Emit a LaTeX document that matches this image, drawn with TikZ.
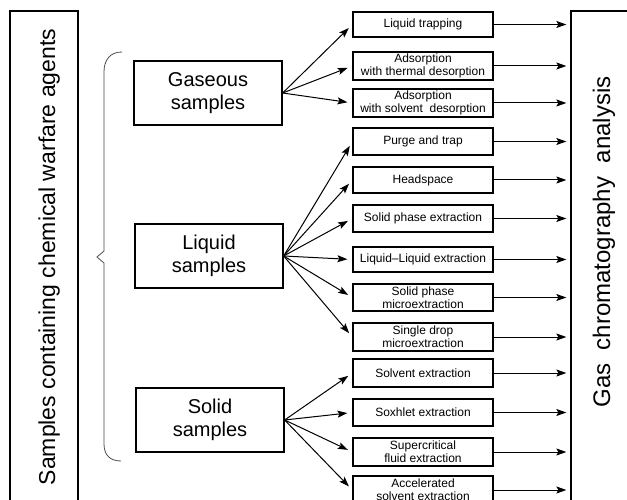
\documentclass[tikz,border=0pt]{standalone}
\usepackage{fontspec}
\setmainfont{Liberation Sans}
\usetikzlibrary{arrows.meta}
\begin{document}
\begin{tikzpicture}[x=1pt,y=-1pt,
  cat/.style={draw, line width=1.3pt, minimum width=148pt, minimum height=64pt, inner sep=0pt, align=center, font=\fontsize{20}{23}\selectfont},
  meth/.style={draw, line width=1.2pt, minimum width=140pt, inner sep=0pt, align=center, font=\fontsize{12}{13}\selectfont},
  frame/.style={draw, line width=1.3pt, inner sep=0pt},
  arr/.style={-{Stealth[length=10pt,width=7pt,inset=2pt]}, line width=1pt},
  vtext/.style={rotate=90, anchor=base, inner sep=0pt},
]
\clip (0,0) rectangle (627,500);
\fill[white] (0,0) rectangle (627,500);

% outer frames
\node[frame, minimum width=68pt, minimum height=510pt] (sc) at (44,266) {};
\node[frame, minimum width=70pt, minimum height=510pt] (gc) at (606,266) {};
\node[vtext, font=\fontsize{23}{26}\selectfont] (sct) at (55,257) {Samples containing chemical warfare agents};
\node[vtext, font=\fontsize{24}{27}\selectfont] (gct) at (610,242) {Gas\ \ chromatography\ \ analysis};

% brace
\draw[black!70, line width=0.8pt] (122,52) .. controls (110,52) and (104,60) .. (104,72)
  -- (104,251) -- (97,257) -- (104,263) -- (104,444)
  .. controls (104,455) and (110,461) .. (121,461);

% category boxes
\node[cat] (gas) at (208,93) {Gaseous\\samples};
\node[cat] (liq) at (209,256) {Liquid\\samples};
\node[cat] (sol) at (210,420) {Solid\\samples};

% method boxes
\node[meth, minimum height=25pt] (m1) at (423,24.5) {Liquid trapping};
\node[meth, minimum height=28pt] (m2) at (423,66) {Adsorption\\with thermal desorption};
\node[meth, minimum height=28pt] (m3) at (423,103) {Adsorption\\with solvent\ \ desorption};
\node[meth, minimum height=27pt] (m4) at (423,141.5) {Purge and trap};
\node[meth, minimum height=26pt] (m5) at (423,180) {Headspace};
\node[meth, minimum height=27pt] (m6) at (423,218.5) {Solid phase extraction};
\node[meth, minimum height=25pt] (m7) at (423,259.5) {Liquid--Liquid extraction};
\node[meth, minimum height=27pt] (m8) at (423,297.5) {Solid phase\\microextraction};
\node[meth, minimum height=28pt] (m9) at (423,337) {Single drop\\microextraction};
\node[meth, minimum height=28pt] (m10) at (423,373) {Solvent extraction};
\node[meth, minimum height=27pt] (m11) at (423,412.5) {Soxhlet extraction};
\node[meth, minimum height=28pt] (m12) at (423,452) {Supercritical\\fluid extraction};
\node[meth, minimum height=28pt] (m13) at (423,490) {Accelerated\\solvent extraction};

% fan-out arrows
\foreach \m in {m1,m2,m3} \draw[arr, shorten >=5pt] (gas.east) -- (\m.west);
\foreach \m in {m4,m5,m6,m7,m8,m9} \draw[arr, shorten >=5pt] (liq.east) -- (\m.west);
\foreach \m in {m10,m11,m12,m13} \draw[arr, shorten >=5pt] (sol.east) -- (\m.west);

% arrows to GC
\foreach \m in {m1,m2,m3,m4,m5,m6,m7,m8,m9,m10,m11,m12,m13}
  \draw[arr, shorten >=4pt] (\m.east) -- (\m.east -| gc.west);
\end{tikzpicture}
\end{document}
